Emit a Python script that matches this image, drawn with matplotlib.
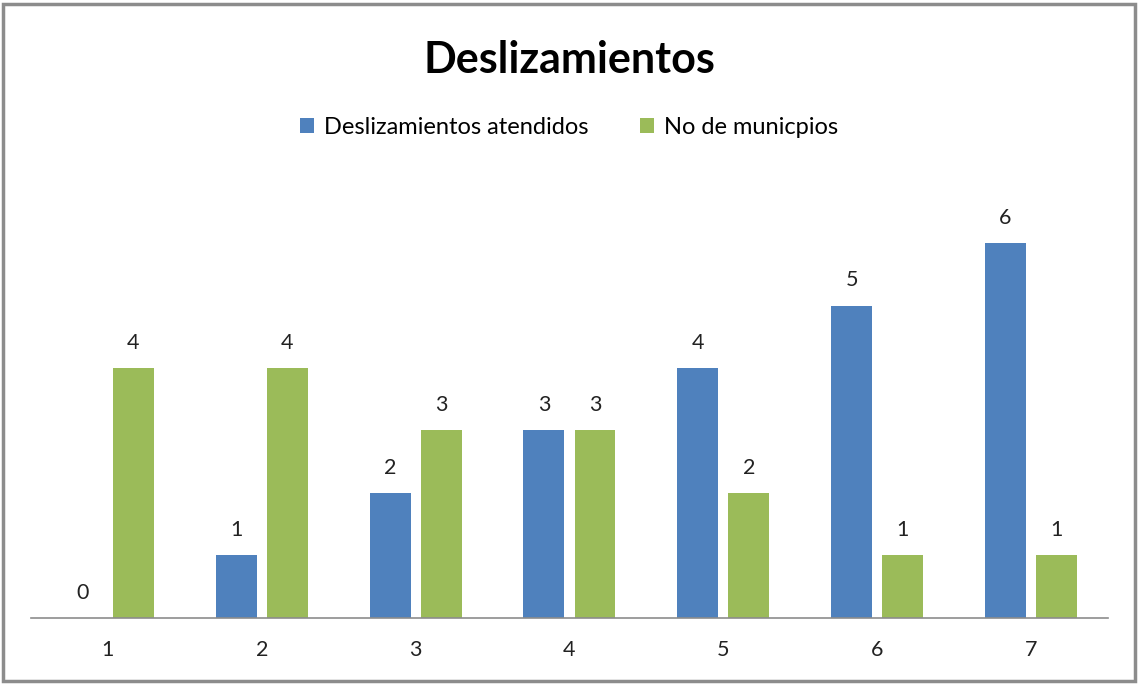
import matplotlib.pyplot as plt
import numpy as np
from matplotlib.patches import Rectangle

categories = ["1", "2", "3", "4", "5", "6", "7"]
atendidos = [0, 1, 2, 3, 4, 5, 6]
municipios = [4, 4, 3, 3, 2, 1, 1]

BLUE = "#4F81BD"
GREEN = "#9BBB59"

plt.rcParams["font.family"] = ["Lato", "DejaVu Sans"]

fig = plt.figure(figsize=(11.38, 6.84), dpi=100)
ax = fig.add_axes([0.0272, 0.0965, 0.9464, 0.6396])

x = np.arange(1, len(categories) + 1)
offset = 0.166
width = 0.266
bars_a = ax.bar(x - offset, atendidos, width, color=BLUE, label="Deslizamientos atendidos")
bars_m = ax.bar(x + offset, municipios, width, color=GREEN, label="No de municpios")

for bars in (bars_a, bars_m):
    for b in bars:
        h = b.get_height()
        ax.annotate(f"{h:g}", (b.get_x() + b.get_width() / 2, h),
                    xytext=(0, 11), textcoords="offset points",
                    ha="center", va="bottom", fontsize=15.5, color="#222222")

ax.set_xlim(0.5, 7.5)
ax.set_ylim(0, 7)
ax.set_xticks(x)
ax.set_xticklabels(categories, fontsize=15.5, color="#222222")
ax.tick_params(axis="x", length=0, pad=16)
ax.set_yticks([])
for side in ("top", "right", "left"):
    ax.spines[side].set_visible(False)
ax.spines["bottom"].set_color("#8c8c8c")
ax.spines["bottom"].set_linewidth(1.2)

fig.text(0.5, 0.913, "Deslizamientos", ha="center", va="center",
         fontsize=31, fontweight="bold", color="black")
fig.legend(loc="center", bbox_to_anchor=(0.5, 0.814), ncol=2, frameon=False,
           fontsize=17, handlelength=0.6, handleheight=0.6, handletextpad=0.4,
           columnspacing=2.2)

fig.patches.append(Rectangle((0.003, 0.004), 0.994, 0.99, transform=fig.transFigure,
                             fill=False, edgecolor="#8c8c8c", linewidth=2.5))

fig.savefig("out.png", dpi=100)
